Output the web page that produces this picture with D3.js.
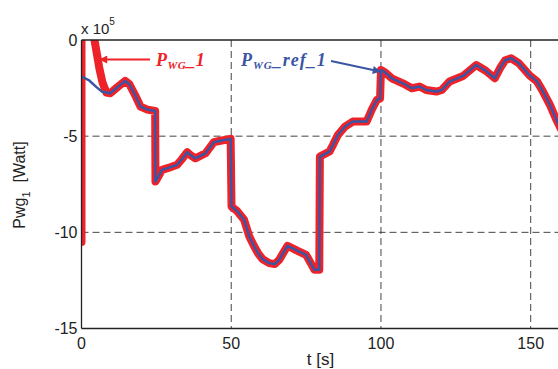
<!DOCTYPE html>
<html><head><meta charset="utf-8">
<script src="https://cdn.jsdelivr.net/npm/d3@7"></script>
<style>html,body{margin:0;padding:0;background:#fff;overflow:hidden}</style>
</head><body>
<svg id="c" width="558" height="369"></svg>
<script>
// ---- data (values in units of 1e5 W) ----
const xTicks = [0, 50, 100, 150];
const yTicks = [0, -5, -10, -15];
const refT = [0,2.4,5,6.9,9.6,12,14.6,16,18,19.7,22,24.6,24.7,26.9,29,31.9,33.5,35.3,36.5,38,41.4,44.2,46,49.8,50.1,52,54.3,56,57.7,59,60.5,62.7,64.5,66,68.8,72,75,77.8,79.4,79.6,82.8,84,85.6,88,90.6,95.2,97,98.6,99.7,100,101.5,103.6,107.3,110.3,112.9,115.1,118.5,120.3,122.9,127.4,129.5,131.8,135,138,140,141.5,143.5,146,149.7,152.1,154.1,156.5,158.6,161];
const refV = [-1.9,-2.08,-2.45,-2.69,-2.77,-2.45,-2.13,-2.3,-2.9,-3.46,-3.62,-3.69,-7.36,-6.75,-6.65,-6.49,-6.2,-5.83,-6.0,-6.15,-5.89,-5.31,-5.25,-5.14,-8.66,-8.9,-9.35,-10.2,-10.74,-11.1,-11.4,-11.6,-11.65,-11.43,-10.7,-10.95,-11.17,-11.95,-11.95,-6.06,-5.8,-5.45,-4.94,-4.5,-4.24,-4.24,-3.6,-3.12,-3.05,-1.56,-1.7,-1.99,-2.25,-2.51,-2.42,-2.6,-2.68,-2.6,-2.16,-1.87,-1.6,-1.3,-1.6,-1.99,-1.4,-1.05,-0.95,-1.2,-1.85,-2.15,-2.68,-3.4,-4.16,-4.9];
// initial transient of the measured power (afterwards it follows the reference)
const startT = [0,0,4.0,5.0,6.0,7.0,8.3];
const startV = [-10.5,0.3,0.3,-0.6,-1.5,-2.2,-2.73];
const joinAfter = 9;

const svg = d3.select("#c");
const x = d3.scaleLinear().domain([0,150]).range([81.5,530.7]);
const y = d3.scaleLinear().domain([-15,0]).range([328.5,40]);
const pL = x(0), pT = y(0), pB = y(-15), pR = 620;

const ref = refT.map((t,i)=>[t,refV[i]]);
const meas = startT.map((t,i)=>[t,startV[i]]).concat(ref.filter(d=>d[0]>=joinAfter));

const defs = svg.append("defs");
defs.append("clipPath").attr("id","clip").append("rect")
  .attr("x",pL).attr("y",pT).attr("width",pR-pL).attr("height",pB-pT);

// grid
const g = svg.append("g");
g.selectAll(".gx").data(xTicks.filter(d=>d>0)).join("line")
  .attr("x1",d=>x(d)).attr("x2",d=>x(d)).attr("y1",pT).attr("y2",pB)
  .attr("stroke","#444").attr("stroke-width",1).attr("stroke-dasharray","7,4");
g.selectAll(".gy").data(yTicks.filter(d=>d>-15 && d<0)).join("line")
  .attr("x1",pL).attr("x2",pR).attr("y1",d=>y(d)).attr("y2",d=>y(d))
  .attr("stroke","#444").attr("stroke-width",1).attr("stroke-dasharray","7,4");

// lines
const line = d3.line().x(d=>x(d[0])).y(d=>y(d[1]));
const pl = svg.append("g").attr("clip-path","url(#clip)");
pl.append("path").attr("d",line(meas)).attr("fill","none")
  .attr("stroke","#ee2229").attr("stroke-width",8).attr("stroke-linejoin","round").attr("stroke-linecap","round");
pl.append("path").attr("d",line(ref)).attr("fill","none")
  .attr("stroke","#3a55a4").attr("stroke-width",2.5).attr("stroke-linejoin","round");

// axes frame
svg.append("line").attr("x1",pL).attr("x2",pR).attr("y1",pT).attr("y2",pT).attr("stroke","#222").attr("stroke-width",1.3);
svg.append("line").attr("x1",pL).attr("x2",pR).attr("y1",pB).attr("y2",pB).attr("stroke","#222").attr("stroke-width",1.3);
svg.append("line").attr("x1",pL).attr("x2",pL).attr("y1",pT).attr("y2",pB).attr("stroke","#222").attr("stroke-width",1.3);

// tick labels
svg.selectAll(".yt").data(yTicks).join("text")
  .attr("x",pL-4).attr("y",d=>y(d)).attr("dy","0.36em").attr("text-anchor","end")
  .attr("font-family","Liberation Sans, Arial, sans-serif").attr("font-size",16).attr("fill","#222")
  .text(d=>d);
svg.selectAll(".xt").data(xTicks).join("text")
  .attr("x",d=>x(d)).attr("y",348.5).attr("text-anchor","middle")
  .attr("font-family","Liberation Sans, Arial, sans-serif").attr("font-size",16).attr("fill","#222")
  .text(d=>d);

// exponent
const ex = svg.append("text").attr("x",81).attr("y",33.5)
  .attr("font-family","Liberation Sans, Arial, sans-serif").attr("font-size",15).attr("fill","#222");
ex.append("tspan").text("x 10");
ex.append("tspan").attr("font-size",10).attr("dy",-9).text("5");

// axis labels
svg.append("text").attr("x",320.5).attr("y",364.5)
  .attr("text-anchor","middle").attr("font-family","Liberation Sans, Arial, sans-serif").attr("font-size",17).attr("fill","#222")
  .text("t [s]");
const yl = svg.append("text").attr("transform","translate(25,185) rotate(-90)")
  .attr("text-anchor","middle").attr("font-family","Liberation Sans, Arial, sans-serif").attr("font-size",16).attr("fill","#222");
yl.append("tspan").text("Pwg");
yl.append("tspan").attr("font-size",11).attr("dy",5).text("1");
yl.append("tspan").attr("dy",-5).text("\u00a0\u00a0[Watt]");

// annotations
const serif = "Liberation Serif, Times New Roman, serif";
function label(xp, yp, color, big2, ls) {
  const t = svg.append("text").attr("x",xp).attr("y",yp)
    .attr("font-family",serif).attr("font-weight","bold").attr("font-style","italic")
    .attr("font-size",18).attr("fill",color).attr("letter-spacing",ls);
  t.append("tspan").text("P");
  t.append("tspan").attr("font-size",11).attr("dy",3).text("WG");
  t.append("tspan").attr("dy",-3).text(big2);
}
label(156, 66, "#ee2229", "_1", 0.5);
label(241, 66, "#3a55a4", "_ref_1", 1);

function marker(id,color){
  defs.append("marker").attr("id",id).attr("viewBox","0 0 10 10").attr("refX",9).attr("refY",5)
    .attr("markerWidth",5).attr("markerHeight",4).attr("markerUnits","strokeWidth").attr("orient","auto")
    .append("path").attr("d","M0,0 L10,5 L0,10 Z").attr("fill",color);
}
marker("mr","#ee2229"); marker("mb","#3a55a4");
svg.append("line").attr("x1",150).attr("y1",59.5).attr("x2",100).attr("y2",59.5)
  .attr("stroke","#ee2229").attr("stroke-width",2).attr("marker-end","url(#mr)");
svg.append("line").attr("x1",331).attr("y1",61).attr("x2",380).attr("y2",71.5)
  .attr("stroke","#3a55a4").attr("stroke-width",2).attr("marker-end","url(#mb)");
</script>
</body></html>
